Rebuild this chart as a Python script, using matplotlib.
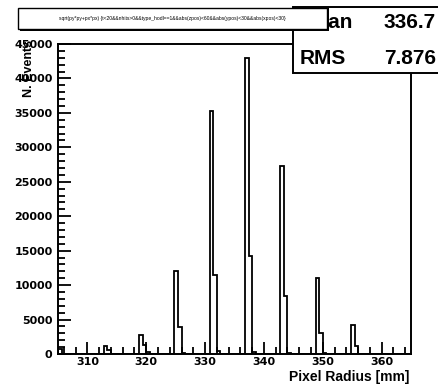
import numpy as np
import matplotlib
matplotlib.use("Agg")
import matplotlib.pyplot as plt
from matplotlib.patches import Rectangle

# Histogram definition: 100 bins from 305 to 365 mm
x_min, x_max, n_bins = 305.0, 365.0, 100

# Filled bins (lower edge in mm) and their entries
bin_lo = [305.0, 312.8, 313.4, 318.8, 319.4, 320.0, 324.8, 325.4, 326.0,
          330.8, 331.4, 332.0, 336.8, 337.4, 338.0, 342.8, 343.4, 344.0,
          348.8, 349.4, 350.0, 354.8, 355.4]
entries = [700, 1100, 550, 2800, 1350, 300, 12000, 3900, 200,
           35300, 11500, 450, 42900, 14200, 250, 27300, 8400, 200,
           11000, 3100, 200, 4200, 1200]

# Statistics box contents
stat_names = ["Mean", "RMS"]
stat_values = ["336.7", "7.876"]

title = ("sqrt(py*py+px*px) {t<20&&nhits>0&&type_hodl==1&&abs(zpos)<60"
         "&&abs(ypos)<30&&abs(xpos)<30}")
x_title = "Pixel Radius [mm]"
y_title = "N. Events"

x_major = [310, 320, 330, 340, 350, 360]
y_major = [0, 5000, 10000, 15000, 20000, 25000, 30000, 35000, 40000, 45000]

edges = np.linspace(x_min, x_max, n_bins + 1)
width = (x_max - x_min) / n_bins
counts = np.zeros(n_bins)
for lo, n in zip(bin_lo, entries):
    counts[int(round((lo - x_min) / width))] = n

W, H = 438, 386
fig = plt.figure(figsize=(W / 100, H / 100), dpi=100)
ax = fig.add_axes([58 / W, 1 - 354 / H, (411 - 58) / W, (354 - 44) / H])

ax.stairs(counts, edges, color="black", lw=1.3, baseline=0)
ax.set_xlim(x_min, x_max)
ax.set_ylim(0, 45000)

tick_font = dict(family="DejaVu Sans", weight="bold", size=8)
ax.set_xticks(x_major)
ax.set_xticks(np.arange(306, 365, 2), minor=True)
ax.set_yticks(y_major)
ax.set_yticks(np.arange(0, 45001, 1000), minor=True)
ax.set_xticklabels([str(v) for v in x_major], **tick_font)
ax.set_yticklabels([str(v) for v in y_major], **tick_font)
ax.tick_params(which="both", direction="in", top=False, right=False,
               width=1.3, color="black")
ax.tick_params(axis="y", which="major", length=9, pad=4)
ax.tick_params(axis="y", which="minor", length=5)
ax.tick_params(axis="x", which="major", length=9, pad=2)
ax.tick_params(axis="x", which="minor", length=5)
for s in ax.spines.values():
    s.set_linewidth(1.4)
    s.set_color("black")

fig.text(409 / W, 1 - 377 / H, x_title, ha="right", va="center",
         family="Liberation Sans", weight="bold", fontsize=10)
fig.text(29 / W, 1 - 40 / H, y_title, ha="center", va="top", rotation=90,
         family="Liberation Sans", weight="bold", fontsize=9)

# Statistics box in the top-right corner
stat_box = Rectangle((293 / W, 1 - 73 / H), 160 / W, 66 / H,
                     transform=fig.transFigure, facecolor="white",
                     edgecolor="black", lw=1.4, zorder=5, clip_on=False)
fig.add_artist(stat_box)
for i, (name, val) in enumerate(zip(stat_names, stat_values)):
    yc = 1 - (23 + 35 * i) / H
    fig.text(300 / W, yc, name, ha="left", va="center", zorder=6,
             family="Liberation Sans", weight="bold", fontsize=15)
    fig.text(436 / W, yc, val, ha="right", va="center", zorder=6,
             family="Liberation Sans", weight="bold", fontsize=15)

# Title pave with shadow
shadow = Rectangle((20 / W, 1 - 31 / H), 309 / W, 23 / H,
                   transform=fig.transFigure, facecolor="black",
                   edgecolor="black", lw=0, zorder=7)
fig.add_artist(shadow)
title_box = Rectangle((18 / W, 1 - 29 / H), 309 / W, 21 / H,
                      transform=fig.transFigure, facecolor="white",
                      edgecolor="black", lw=1.0, zorder=8)
fig.add_artist(title_box)
fig.text(172 / W, 1 - 18.5 / H, title, ha="center", va="center", zorder=9,
         family="Liberation Sans", fontsize=3.6)

fig.savefig("out.png", dpi=100)
